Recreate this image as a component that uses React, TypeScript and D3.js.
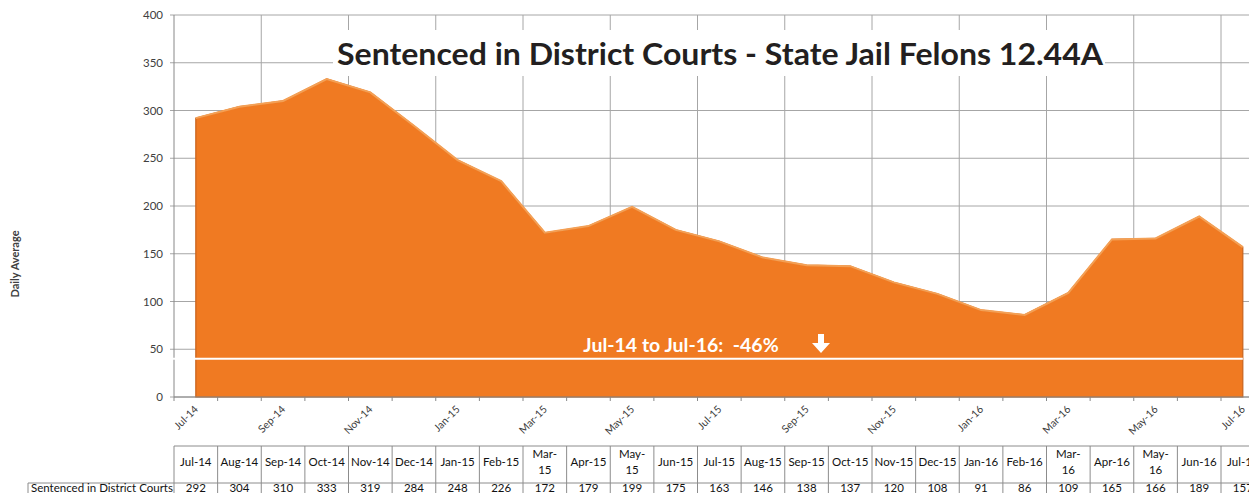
import { useEffect, useRef } from "react";
import * as d3 from "d3";

// data
const months = ["Jul-14", "Aug-14", "Sep-14", "Oct-14", "Nov-14", "Dec-14", "Jan-15", "Feb-15", "Mar-15", "Apr-15", "May-15", "Jun-15", "Jul-15", "Aug-15", "Sep-15", "Oct-15", "Nov-15", "Dec-15", "Jan-16", "Feb-16", "Mar-16", "Apr-16", "May-16", "Jun-16", "Jul-16"];
const values = [292, 304, 310, 333, 319, 284, 248, 226, 172, 179, 199, 175, 163, 146, 138, 137, 120, 108, 91, 86, 109, 165, 166, 189, 157];
const yTicks = [0, 50, 100, 150, 200, 250, 300, 350, 400];
// table header cells, "|" marks a line break
const tableHeaders = ["Jul-14", "Aug-14", "Sep-14", "Oct-14", "Nov-14", "Dec-14", "Jan-15", "Feb-15", "Mar-|15", "Apr-15", "May-|15", "Jun-15", "Jul-15", "Aug-15", "Sep-15", "Oct-15", "Nov-15", "Dec-15", "Jan-16", "Feb-16", "Mar-|16", "Apr-16", "May-|16", "Jun-16", "Jul-16"];
const seriesName = "Sentenced in District Courts";
const title = "Sentenced in District Courts - State Jail Felons 12.44A";
const changeLabel = "Jul-14 to Jul-16:  -46%";
const changeLevel = 40;

const W = 1249, H = 493;
const font = "Lato, 'Open Sans', sans-serif";

export default function App() {
    const ref = useRef<SVGSVGElement>(null);

    useEffect(() => {
        const svg = d3.select(ref.current);
        svg.selectAll("*").remove();

        const left = 174, top = 15, bottom = 397;
        const step = 43.625;
        const x = d3.scaleBand<string>().domain(months).range([left, left + step * months.length]).padding(0);
        const cx = (m: string) => (x(m) as number) + x.bandwidth() / 2;
        const y = d3.scaleLinear().domain([0, 400]).range([bottom, top]);
        const right = left + step * months.length;

        const grid = "#a6a6a6";

        // horizontal gridlines
        svg.append("g").selectAll("line").data(yTicks).join("line")
            .attr("x1", left - 4).attr("x2", right)
            .attr("y1", d => y(d)).attr("y2", d => y(d))
            .attr("stroke", grid).attr("stroke-width", 1);

        // vertical gridlines every two months
        const boundaries = d3.range(0, months.length + 1);
        svg.append("g").selectAll("line").data(boundaries.filter(i => i > 0 && i % 2 === 0)).join("line")
            .attr("x1", i => left + i * step).attr("x2", i => left + i * step)
            .attr("y1", top).attr("y2", bottom)
            .attr("stroke", grid).attr("stroke-width", 1);

        // area
        const area = d3.area<number>()
            .x((d, i) => cx(months[i]))
            .y0(y(0))
            .y1(d => y(d));
        svg.append("path").datum(values)
            .attr("d", area)
            .attr("fill", "#F07A22")
            .attr("stroke", "#C8631C").attr("stroke-width", 1.2);
        const line = d3.line<number>().x((d, i) => cx(months[i])).y(d => y(d));
        svg.append("path").datum(values)
            .attr("d", line)
            .attr("fill", "none")
            .attr("stroke", "#F4A055").attr("stroke-width", 2);

        // axes
        svg.append("line").attr("x1", left).attr("x2", left).attr("y1", top).attr("y2", bottom)
            .attr("stroke", "#888").attr("stroke-width", 1);
        svg.append("line").attr("x1", left).attr("x2", right).attr("y1", bottom).attr("y2", bottom)
            .attr("stroke", "#888").attr("stroke-width", 1);
        svg.append("g").selectAll("line").data(boundaries).join("line")
            .attr("x1", i => left + i * step).attr("x2", i => left + i * step)
            .attr("y1", bottom).attr("y2", bottom + 4)
            .attr("stroke", "#888");

        svg.append("g").selectAll("text").data(yTicks).join("text")
            .attr("x", left - 11).attr("y", d => y(d)).attr("dy", "0.35em")
            .attr("text-anchor", "end")
            .attr("font-family", font).attr("font-size", 11.5).attr("fill", "#404040")
            .text(d => d);

        svg.append("text")
            .attr("transform", `translate(19, 264) rotate(-90)`)
            .attr("text-anchor", "middle")
            .attr("font-family", font).attr("font-size", 11).attr("font-weight", "bold").attr("fill", "#404040")
            .text("Daily Average");

        // x labels, every second month
        svg.append("g").selectAll("text").data(months.filter((m, i) => i % 2 === 0)).join("text")
            .attr("transform", m => `translate(${cx(m) + 3}, ${bottom + 13}) rotate(-45)`)
            .attr("text-anchor", "end")
            .attr("font-family", font).attr("font-size", 10.5).attr("fill", "#404040")
            .text(m => m);

        // change annotation
        svg.append("line")
            .attr("x1", left - 2).attr("x2", cx(months[months.length - 1]))
            .attr("y1", y(changeLevel)).attr("y2", y(changeLevel))
            .attr("stroke", "#fff").attr("stroke-width", 2);
        svg.append("text")
            .attr("x", 681).attr("y", 352)
            .attr("text-anchor", "middle")
            .style("white-space", "pre")
            .attr("font-family", font).attr("font-size", 19.5).attr("font-weight", "bold").attr("fill", "#fff")
            .text(changeLabel);
        const ax = 821, ay = 334;
        svg.append("path")
            .attr("d", `M${ax - 3},${ay} H${ax + 3} V${ay + 9} H${ax + 9} L${ax},${ay + 19} L${ax - 9},${ay + 9} H${ax - 3} Z`)
            .attr("fill", "#fff");

        // title on a white box
        svg.append("rect").attr("x", 333).attr("y", 30).attr("width", 772).attr("height", 46).attr("fill", "#fff");
        svg.append("text")
            .attr("x", 337).attr("y", 65)
            .attr("font-family", font).attr("font-size", 31).attr("font-weight", "bold").attr("fill", "#231f20")
            .attr("textLength", 766).attr("lengthAdjust", "spacingAndGlyphs")
            .text(title);

        // data table
        const t0 = 446, t1 = 483, t2 = 500;
        const tg = svg.append("g");
        const border = "#8c8c8c";
        tg.append("line").attr("x1", left).attr("x2", right).attr("y1", t0).attr("y2", t0).attr("stroke", border);
        tg.append("line").attr("x1", 28).attr("x2", right).attr("y1", t1).attr("y2", t1).attr("stroke", border);
        tg.append("line").attr("x1", 28).attr("x2", 28).attr("y1", t1).attr("y2", t2).attr("stroke", border);
        tg.selectAll("line.v").data(boundaries).join("line").attr("class", "v")
            .attr("x1", i => left + i * step).attr("x2", i => left + i * step)
            .attr("y1", t0).attr("y2", t2).attr("stroke", border);

        tg.append("text")
            .attr("x", 31).attr("y", 488).attr("dy", "0.35em")
            .attr("font-family", font).attr("font-size", 11.5).attr("fill", "#111")
            .text(seriesName);

        tg.selectAll("text.h").data(tableHeaders).join("text").attr("class", "h")
            .attr("font-family", font).attr("font-size", 11.5).attr("fill", "#111")
            .attr("text-anchor", "middle")
            .each(function (d, i) {
                const parts = d.split("|");
                const sel = d3.select(this);
                const c = cx(months[i]);
                if (parts.length === 1) {
                    sel.append("tspan").attr("x", c).attr("y", 466).text(parts[0]);
                } else {
                    sel.append("tspan").attr("x", c).attr("y", 458).text(parts[0]);
                    sel.append("tspan").attr("x", c).attr("y", 474).text(parts[1]);
                }
            });

        tg.selectAll("text.val").data(values).join("text").attr("class", "val")
            .attr("x", (d, i) => cx(months[i])).attr("y", 488).attr("dy", "0.35em")
            .attr("text-anchor", "middle")
            .attr("font-family", font).attr("font-size", 11.5).attr("fill", "#111")
            .text(d => d);
    }, []);

    return <svg ref={ref} width={W} height={H} style={{ position: "absolute", left: 0, top: 0, background: "#fff" }}></svg>;
}
